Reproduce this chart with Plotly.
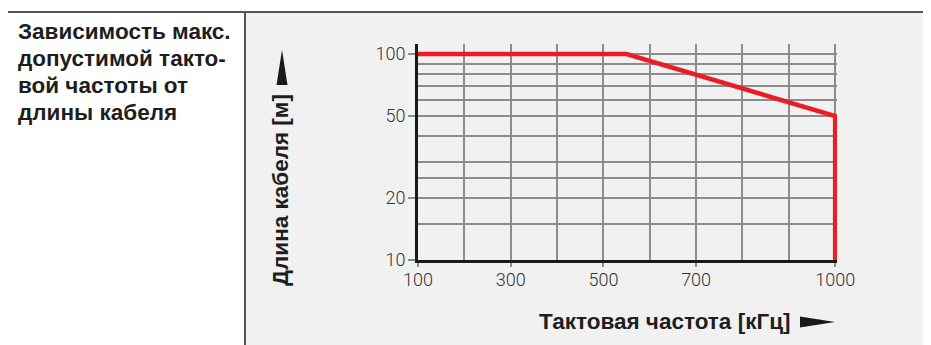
import plotly.graph_objects as go

# ---- data ----
freq_khz = [100, 550, 1000, 1000]
cable_len_m = [100, 100, 50, 10]

x_tick_vals = [100, 300, 500, 700, 1000]
x_tick_text = ["100", "300", "500", "700", "1000"]
y_tick_vals = [10, 20, 50, 100]
y_tick_text = ["10", "20", "50", "100"]
y_minor_grid = [15, 25, 30, 40, 60, 70, 80, 90]

left_cell_lines = ["Зависимость макс.", "допустимой такто-", "вой частоты от", "длины кабеля"]
x_title = "Тактовая частота [кГц]"
y_title = "Длина кабеля [м]"

# ---- layout geometry (page pixels; page body has an 8px margin) ----
OFF = 8
FW, FH = 931 - OFF, 345 - OFF
PL, PR, PT, PB = 418, 837, 44, 260          # plot area in page pixels
W, H = PR - PL, PB - PT


def px(x):
    return (x - PL) / W


def py(y):
    return (PB - y) / H


GRID = "#8c8c8c"
FRAME = "#555555"
FONT = "Liberation Sans, Arial, sans-serif"
TICKFONT = "Roboto, Liberation Sans, sans-serif"
TITLE_SIZE = 22.5

fig = go.Figure()
fig.add_trace(go.Scatter(
    x=freq_khz, y=cable_len_m, mode="lines",
    line=dict(color="#ec1c24", width=4.5),
    hoverinfo="skip", showlegend=False,
))

shapes = [
    dict(type="rect", xref="paper", yref="paper", x0=px(245), x1=px(926), y0=py(360), y1=py(12),
         fillcolor="#f1f1f1", line=dict(width=0), layer="below"),
    dict(type="rect", xref="paper", yref="paper", x0=px(7), x1=px(926), y0=py(360), y1=py(12),
         fillcolor="rgba(0,0,0,0)", line=dict(color=FRAME, width=2), layer="above"),
    dict(type="line", xref="paper", yref="paper", x0=px(245), x1=px(245), y0=py(360), y1=py(12),
         line=dict(color=FRAME, width=2), layer="above"),
    dict(type="path", xref="paper", yref="paper",
         path=f"M {px(276.5)} {py(85)} L {px(282)} {py(50)} L {px(287.5)} {py(85)} Z",
         fillcolor="#1a1a1a", line=dict(width=0)),
    dict(type="path", xref="paper", yref="paper",
         path=f"M {px(800)} {py(316.5)} L {px(835)} {py(322)} L {px(800)} {py(327.5)} Z",
         fillcolor="#1a1a1a", line=dict(width=0)),
]

annotations = []
for i, t in enumerate(left_cell_lines):
    annotations.append(dict(
        text=t, xref="paper", yref="paper", x=px(16), y=py(31 + i * 27.3),
        xanchor="left", yanchor="middle", showarrow=False,
        font=dict(family=FONT, size=TITLE_SIZE, color="#1e1e1e", weight="bold"),
    ))
annotations.append(dict(
    text=x_title, xref="paper", yref="paper", x=px(664), y=py(321),
    xanchor="center", yanchor="middle", showarrow=False,
    font=dict(family=FONT, size=TITLE_SIZE, color="#1e1e1e", weight="bold"),
))
annotations.append(dict(
    text=y_title, xref="paper", yref="paper", x=px(280), y=py(190),
    xanchor="center", yanchor="middle", showarrow=False, textangle=-90,
    font=dict(family=FONT, size=TITLE_SIZE, color="#1e1e1e", weight="bold"),
))

fig.update_layout(
    width=FW, height=FH,
    margin=dict(l=PL - OFF, r=FW - (PR - OFF), t=PT - OFF, b=FH - (PB - OFF), pad=0),
    paper_bgcolor="white", plot_bgcolor="#f1f1f1",
    shapes=shapes, annotations=annotations, showlegend=False,
    font=dict(family=TICKFONT, size=18, color="#333333"),
)

tickfont = dict(family=TICKFONT, size=18, color="#333333", weight=300)
fig.update_xaxes(
    range=[100, 1004], tickmode="array", tickvals=x_tick_vals, ticktext=x_tick_text,
    ticks="outside", ticklen=4, tickwidth=1.5, tickcolor=GRID, ticklabelstandoff=-3,
    showgrid=True, gridcolor=GRID, gridwidth=1.5,
    minor=dict(dtick=100, tick0=100, showgrid=True, gridcolor=GRID, gridwidth=1.5, ticklen=0),
    showline=True, linecolor="#1a1a1a", linewidth=3, zeroline=False,
    tickfont=tickfont,
)
fig.update_yaxes(
    type="log", range=[1, 2.049], tickmode="array", tickvals=y_tick_vals, ticktext=y_tick_text,
    ticks="outside", ticklen=7, tickwidth=1.5, tickcolor=GRID, ticklabelstandoff=-1,
    showgrid=True, gridcolor=GRID, gridwidth=1.5,
    minor=dict(tickmode="array", tickvals=y_minor_grid, showgrid=True, gridcolor=GRID,
               gridwidth=1.5, ticklen=0),
    showline=True, linecolor="#1a1a1a", linewidth=3, zeroline=False,
    tickfont=tickfont,
)

fig.write_html("out.html")
